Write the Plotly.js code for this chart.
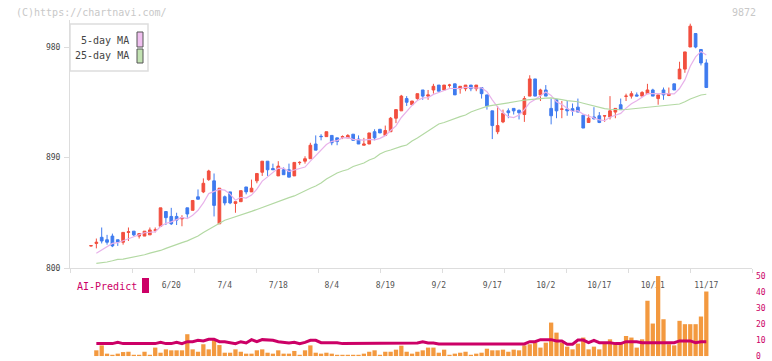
<!DOCTYPE html>
<html><head><meta charset="utf-8">
<script src="https://cdn.plot.ly/plotly-3.0.1.min.js"></script>
<style>html,body{margin:0;padding:0;background:#fff;}#chart{width:772px;height:361px;}</style>
</head><body><div id="chart"></div>
<script>
const dates = ["5/30","6/2","6/3","6/4","6/5","6/6","6/9","6/10","6/11","6/12","6/13","6/16","6/17","6/18","6/19","6/20","6/23","6/24","6/25","6/26","6/27","6/30","7/1","7/2","7/3","7/4","7/7","7/8","7/9","7/10","7/11","7/14","7/15","7/16","7/17","7/18","7/22","7/23","7/24","7/25","7/28","7/29","7/30","7/31","8/1","8/4","8/5","8/6","8/7","8/8","8/12","8/13","8/14","8/15","8/18","8/19","8/20","8/21","8/22","8/25","8/26","8/27","8/28","8/29","9/1","9/2","9/3","9/4","9/5","9/8","9/9","9/10","9/11","9/12","9/16","9/17","9/18","9/19","9/22","9/24","9/25","9/26","9/29","9/30","10/1","10/2","10/3","10/6","10/7","10/8","10/9","10/10","10/14","10/15","10/16","10/17","10/20","10/21","10/22","10/23","10/24","10/27","10/28","10/29","10/30","10/31","11/4","11/5","11/6","11/7","11/10","11/11","11/12","11/13","11/14","11/17"];

const openP = [818,820,825,823,826,823,821,829,830,826, 826,827,830.8,834,846,842,842,840,849,847, 858,862,872,871,836,858,862,852.6,854,866, 862,871,878,887,881,875,880,880,875,885.8, 887,889,901,907.3,907,908,906,906.5,906,909, 905,900,901,911,913,908,911,922,928,938, 933,938,945,940,945,949,945,948.8,950,946, 946,949,946,947,941,928,911,919,928,930, 928.5,925,940,954,941,945,930,937,929.3,929.5, 929.8,931,924.5,918.5,923,924,923.8,923,927,933, 939.8,940,941,940,942,945,938,945,940.5,950, 954,962,980,991,978,967];
const highP = [818.5,824,833,827,828,823,829,833,830,828, 830,833,833,849,846,849,845,843,849,855, 864,873,880,877,865,859,862,854,863,866, 872,877,887,887,885,887,882,885,886,887, 891,902,908,909,911,908,906,908,909,909, 908,906,910,913,913,916,923,929,941,940, 936,942,945,945,950,949,949,950,950,948, 949,949,949,947,941,928,932,929,930,930, 929,940,957,954,946,949,938,937,936,936, 934,938,924.5,925,931,927,924,940,930,938, 942,944,943,944,950,946,941,947,947,950, 968,976,999,991,978,970];
const lowP = [817.5,816,820,819,817,818,819,822,826,824, 826,827,829,834,835,835,835,834,841,847, 856,861,871,842,836,851,852,845,854,860, 862,869,875,875,880,875,876,874,875,884, 885,889,896,904,907,900,900,905,906,904, 901,900,901,904,910,908,911,918,928,932, 933,937,937,937,942,944,945,947,941,942, 944,944,944,938,929,905,909,918,922,925, 921,919,940,940,936,940,917,922,922,924, 924,927,914,918.5,921,918,919,921,922,929, 936,938,940,940,942,940,933,937,940,945, 954,959,980,979,965,947];
const closeP = [818.2,821,822,821,818,821,829,829.5,827,828, 830,831,831,849,841,836,839,841,844,855, 856,869,879,851,865,853,853,854,863,862, 865,877,887,880,880,883,876,874,886,886, 889,900,896,907,911,902,903,907,908,904, 901,901,910,906,910,912,922,929,940,935, 936,942,940,941,948,944,949,949,941,948, 949,946,949,942,932,916,916,926,926.5,928, 926.5,938,954,940,945,940,924,928,929.5,928, 928,927,914,922,921.5,918.5,924,928,930,929, 940,942,940,943,945,940,941,941,942,945, 962,976,997,980,967,947];

const ma5 = [null,812.0,814.5,816.8,820.0,820.6,822.2,823.7,824.9,826.9, 828.7,829.1,829.4,833.8,836.4,837.6,839.2,841.2,840.2,843.0, 847.0,853.0,860.6,862.0,864.0,863.4,860.2,855.2,857.6,857.0, 859.4,864.2,870.8,874.2,877.8,881.4,881.2,878.6,879.8,881.0, 882.2,887.0,891.4,895.6,900.6,903.2,903.8,906.0,906.2,904.8, 904.6,904.2,904.8,904.4,905.6,907.8,912.0,915.8,922.6,927.6, 932.4,936.4,938.6,938.8,941.4,943.0,944.4,946.2,946.2,946.2, 947.2,946.6,946.6,946.8,943.6,937.0,931.0,926.4,923.3,922.5, 924.6,929.0,934.6,937.3,940.7,943.4,940.6,935.4,933.3,929.9, 927.5,928.1,925.3,923.8,922.5,920.6,920.0,922.8,924.4,925.9, 930.2,933.8,936.2,938.8,942.0,942.0,941.8,942.0,941.8,941.8, 946.2,953.2,964.4,972.0,976.4,973.4];
const ma25 = [null,803.8,804.1,804.9,805.9,807.0,807.3,808.2,808.9,809.5, 810.8,812.1,813.0,814.3,816.0,817.7,819.2,820.7,822.1,824.0, 826.1,828.9,831.3,833.9,836.8,838.9,840.3,841.6,842.9,844.5, 846.1,847.7,849.4,851.1,852.7,854.3,855.8,857.3,858.7,860.9, 862.9,864.9,866.8,869.2,872.5,875.0,877.4,879.0,880.2,882.7, 883.9,885.5,888.0,889.6,892.9,894.9,896.1,897.8,899.1,900.2, 903.5,905.9,908.8,911.2,914.5,917.3,918.5,920.2,922.2,923.3, 924.6,927.1,928.7,930.3,931.7,932.4,933.0,933.8,934.6,935.2, 936.0,936.7,937.2,937.8,938.2,938.4,938.5,938.1,937.2,936.3, 936.0,935.4,934.2,933.0,932.1,930.7,929.8,929.3,928.9,928.9, 929.1,929.5,930.1,930.7,931.2,931.4,931.7,932.0,932.3,932.6, 933.6,935.4,937.7,939.3,940.9,941.5];

const aiDates = dates.slice(1);
const aiBars = [3.6,6.7,1.5,0.8,1.5,2.5,2.7,0.8,0.8,2.7, 0.8,5.3,2.1,4.2,3.6,3.6,3.6,13.7,4.2,2.7, 7.4,4.2,10.5,6.9,2.1,2.1,4.2,2.7,1.5,1.5, 3.6,4.2,2.1,1.5,3.6,1.5,1.5,3.2,0.8,3.6, 6.7,2.1,1.5,2.1,1.5,0.8,0.8,0.8,0.8,0.8, 1.5,2.7,3.6,0.8,2.7,2.7,4.0,6.5,2.7,1.5, 2.7,3.6,5.3,5.3,2.1,4.0,0.8,1.5,2.1,2.7, 0.8,1.5,2.1,4.6,3.6,3.6,4.0,2.7,4.0,3.6, 6.7,7.4,8.4,5.3,8.4,21.0,14.7,8.4,5.9,4.2, 7.8,11.6,4.2,5.9,4.2,7.8,10.5,7.8,7.8,12.6, 11.6,5.3,10.5,34.7,20.4,50.2,23.1,7.4,6.7,22.1, 20.0,20.0,20.0,24.8,40.5];
const aiLine = [7.8,7.8,7.8,7.8,8.6,7.8,7.8,7.8,7.8,7.8, 7.8,7.8,8.6,7.8,7.8,8.6,7.8,9.0,9.0,9.9, 9.5,10.5,10.5,9.0,9.0,8.5,7.8,9.0,8.2,10.3, 9.0,10.3,10.3,9.9,9.0,8.5,8.2,8.6,7.8,8.6, 9.9,9.9,8.4,8.4,8.4,8.4,7.8,7.8,7.8,7.8, 7.8,7.8,7.8,7.8,7.8,7.8,7.8,8.2,8.2,8.2, 8.2,9.0,8.2,8.2,7.6,7.6,7.6,7.6,7.6,7.6, 7.6,7.6,7.6,7.6,7.6,7.6,7.6,7.6,7.6,7.6, 7.6,9.0,9.0,10.3,10.3,10.3,9.5,9.5,7.4,7.4, 10.0,10.0,8.4,9.9,8.4,8.4,8.4,7.8,7.8,9.0, 9.0,9.0,8.4,8.4,8.4,8.4,8.4,8.4,8.4,9.5, 9.5,9.5,8.4,9.0,9.0];

const tickDates = ["6/20","7/4","7/18","8/4","8/19","9/2","9/17","10/2","10/17","10/31","11/17"];
const priceTicks = [800,890,980];
const aiTicks = [0,10,20,30,40,50];

const W = 772, H = 361;
const px = v => v / W, py = v => 1 - v / H;
const MONO = '"DejaVu Sans Mono", "Liberation Mono", monospace';
const RED = '#f24f3f', BLUE = '#3f7bef';
const XR = [-3.925, 123.54];
const XD = [px(70), px(752)];

const traces = [
  {type:'candlestick', x:dates, open:openP, high:highP, low:lowP, close:closeP,
   xaxis:'x', yaxis:'y', whiskerwidth:0, hoverinfo:'skip', showlegend:false,
   increasing:{line:{color:RED,width:1}, fillcolor:RED},
   decreasing:{line:{color:BLUE,width:1}, fillcolor:BLUE}},
  {type:'scatter', mode:'lines', x:dates, y:ma5, xaxis:'x', yaxis:'y',
   line:{color:'#e8b2ea', width:1.2}, hoverinfo:'skip', showlegend:false},
  {type:'scatter', mode:'lines', x:dates, y:ma25, xaxis:'x', yaxis:'y',
   line:{color:'#b3d9a3', width:1.2}, hoverinfo:'skip', showlegend:false},
  {type:'bar', x:aiDates, y:aiBars, xaxis:'x2', yaxis:'y2',
   marker:{color:'#f3993f', line:{width:0}}, hoverinfo:'skip', showlegend:false},
  {type:'scatter', mode:'lines', x:aiDates, y:aiLine, xaxis:'x2', yaxis:'y2',
   line:{color:'#cc0066', width:3}, hoverinfo:'skip', showlegend:false},
  {type:'scatter', mode:'markers', x:[0], y:[null], xaxis:'x3', yaxis:'y',
   hoverinfo:'skip', showlegend:false}
];

const layout = {
  width:W, height:H, margin:{l:0,r:0,t:0,b:0},
  paper_bgcolor:'#fff', plot_bgcolor:'rgba(0,0,0,0)',
  font:{family:MONO, size:8, color:'#555'},
  showlegend:false, bargap:0.2, boxgap:0.28,
  xaxis:{type:'category', categoryorder:'array', categoryarray:dates,
    domain:XD, range:XR, anchor:'y', showline:true, linecolor:'#dddddd', linewidth:1,
    ticks:'', tickvals:tickDates, ticktext:tickDates, ticklabelstandoff:9,
    tickfont:{family:MONO, size:8, color:'#555'}, showgrid:false, zeroline:false,
    rangeslider:{visible:false}, fixedrange:true},
  xaxis3:{overlaying:'x', anchor:'y', range:[0,11], tick0:0, dtick:1, ticks:'outside',
    ticklen:4, tickcolor:'#dddddd', showticklabels:false, showline:false,
    showgrid:false, zeroline:false},
  yaxis:{domain:[py(268), py(20)], range:[800,1002], anchor:'x', showline:true,
    linecolor:'#dddddd', linewidth:1, ticks:'outside', ticklen:5, tickcolor:'#dddddd',
    tickvals:priceTicks, ticklabelstandoff:2,
    tickfont:{family:MONO, size:8, color:'#444'}, showgrid:false, zeroline:false},
  xaxis2:{type:'category', categoryorder:'array', categoryarray:dates,
    domain:XD, range:XR, anchor:'y2', visible:false},
  yaxis2:{domain:[py(357), py(270)], range:[-0.6,54.0], anchor:'x2', side:'right',
    tickvals:aiTicks, ticks:'', showline:false, showgrid:false, zeroline:false,
    ticklabeloverflow:'allow', ticklabelstandoff:3,
    tickfont:{family:MONO, size:8, color:'#cc0066'}},
  annotations:[
    {xref:'paper', yref:'paper', x:px(14), y:py(12), xanchor:'left', yanchor:'middle',
     text:'(C)https://chartnavi.com/', showarrow:false, font:{family:MONO, size:10, color:'#c8c8c8'}},
    {xref:'paper', yref:'paper', x:px(758), y:py(12), xanchor:'right', yanchor:'middle',
     text:'9872', showarrow:false, font:{family:MONO, size:10, color:'#c8c8c8'}},
    {xref:'paper', yref:'paper', x:px(131), y:py(40), xanchor:'right', yanchor:'middle',
     text:'5-day MA', showarrow:false, font:{family:MONO, size:10, color:'#444'}},
    {xref:'paper', yref:'paper', x:px(131), y:py(56), xanchor:'right', yanchor:'middle',
     text:'25-day MA', showarrow:false, font:{family:MONO, size:10, color:'#444'}},
    {xref:'paper', yref:'paper', x:px(75), y:py(286), xanchor:'left', yanchor:'middle',
     text:'AI-Predict', showarrow:false, font:{family:MONO, size:10, color:'#cc0066'}}
  ],
  shapes:[
    {type:'rect', xref:'paper', yref:'paper', x0:px(70), x1:px(148), y0:py(71), y1:py(24),
     line:{color:'#dddddd', width:1.5}, fillcolor:'#ffffff', layer:'above'},
    {type:'rect', xref:'paper', yref:'paper', x0:px(137), x1:px(143), y0:py(47), y1:py(32),
     line:{color:'#555', width:1}, fillcolor:'#f0c0f0', layer:'above'},
    {type:'rect', xref:'paper', yref:'paper', x0:px(137), x1:px(143), y0:py(63), y1:py(49),
     line:{color:'#555', width:1}, fillcolor:'#c2e2b2', layer:'above'},
    {type:'rect', xref:'paper', yref:'paper', x0:px(142), x1:px(149), y0:py(293), y1:py(278),
     line:{width:0}, fillcolor:'#cc0066', layer:'above'}
  ]
};

Plotly.newPlot('chart', traces, layout, {staticPlot:true, displayModeBar:false});
</script>
</body></html>
